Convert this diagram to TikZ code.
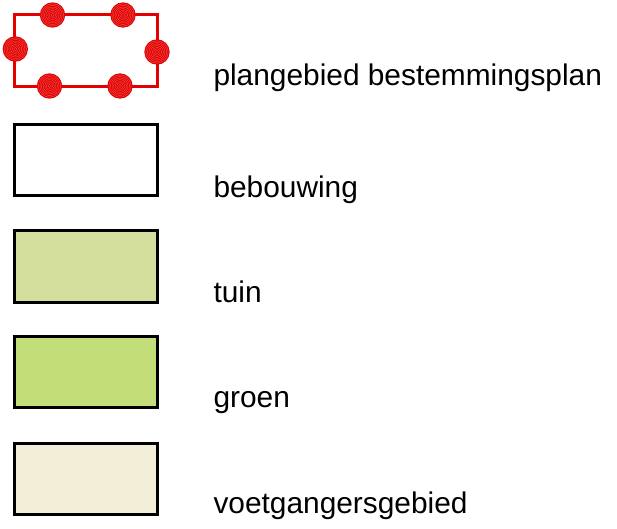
\documentclass[tikz,border=0pt]{standalone}
\usepackage{fontspec}
\setmainfont{Liberation Sans}

\definecolor{planred}{RGB}{226,0,0}
\definecolor{ringred}{RGB}{240,80,80}
\definecolor{tuingroen}{RGB}{213,223,157}
\definecolor{groengroen}{RGB}{195,221,121}
\definecolor{voetbeige}{RGB}{243,238,216}

\tikzset{every picture/.style={line width=0.75pt}}
\tikzset{
  legendbox/.style={draw=black, line width=2.25pt},
  planline/.style={draw=planred, line width=2pt},
  plandot/.style={fill=planred, draw=none},
  planring/.style={draw=ringred, line width=0.3pt},
  legendtext/.style={anchor=base west, inner sep=0pt, font=\fontsize{22.4}{26}\selectfont}
}

\begin{document}
\begin{tikzpicture}[x=0.75pt,y=0.75pt,yscale=-1,xscale=1]
    \useasboundingbox (0,0) rectangle (617,528);
    %Shape: Rectangle (plangebied)
    \draw [planline] (14.7,14.7) rectangle (157.7,86.7) ;
    %Shape: Circles on the plan border
    \foreach \cx/\cy in {52.5/15, 123/15, 15.3/49, 157/52, 49.5/86, 120/86} {
      \fill [plandot] (\cx,\cy) circle (12.7) ;
      \foreach \r in {1.6,3.2,...,12.2}
        \draw [planring] (\cx,\cy) circle (\r) ;
    }
    %Shape: Rectangle (bebouwing)
    \draw [legendbox, fill=white] (14.5,124) rectangle (157.5,195) ;
    %Shape: Rectangle (tuin)
    \draw [legendbox, fill=tuingroen] (14.5,230) rectangle (157.5,302) ;
    %Shape: Rectangle (groen)
    \draw [legendbox, fill=groengroen] (14.5,336.5) rectangle (157.5,407.5) ;
    %Shape: Rectangle (voetgangersgebied)
    \draw [legendbox, fill=voetbeige] (14.5,443) rectangle (157.5,514) ;
    % Text Node
    \node (plangebied) [legendtext] at (213,85) {plangebied bestemmingsplan};
    % Text Node
    \node (bebouwing) [legendtext] at (213,197) {bebouwing};
    % Text Node
    \node (tuin) [legendtext] at (213,302) {tuin};
    % Text Node
    \node (groen) [legendtext] at (213,407) {groen};
    % Text Node
    \node (voetgangers) [legendtext] at (213,513) {voetgangersgebied};
\end{tikzpicture}
\end{document}
